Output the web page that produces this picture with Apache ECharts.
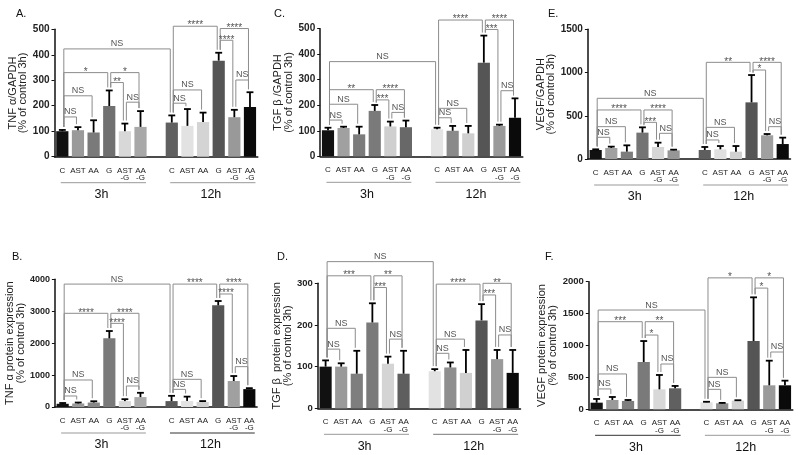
<!DOCTYPE html>
<html>
<head>
<meta charset="utf-8">
<script src="https://cdn.jsdelivr.net/npm/echarts@6/dist/echarts.min.js"></script>
<style>
html, body { margin: 0; padding: 0; background: #fff; }
#main { width: 800px; height: 455px; }
</style>
</head>
<body>
<div id="main"></div>
<script>
//x轴分类 (6组 + 空位 + 6组)
var cats = ['C', 'AST', 'AA', 'G', 'AST\n-G', 'AA\n-G', '', 'C', 'AST', 'AA', 'G', 'AST\n-G', 'AA\n-G'];
var groupNames = ['3h', '12h'];
var groupSpans = [[0, 5], [7, 12]];

//A. TNF α/GAPDH
var tnfGapdhMean = [100, 104, 95, 199, 100, 117, null, 134, 121, 136, 377, 155, 195];
var tnfGapdhErr = [5, 12, 48, 61, 30, 62, null, 28, 66, 37, 31, 29, 58];
var tnfGapdhTicks = [0, 100, 200, 300, 400, 500];
//显著性标记 [from, to, level, text]
var tnfGapdhSig = [
	[0, 7, 423, 'NS'], [0, 3, 330, '*'], [3, 5, 330, '*'], [3, 4, 291, '**'],
	[0, 2, 239, 'NS'], [0, 1, 156, 'NS'], [4, 5, 214, 'NS'],
	[7, 10, 512, '****'], [10, 12, 503, '****'], [10, 11, 457, '****'],
	[7, 9, 262, 'NS'], [7, 8, 210, 'NS'], [11, 12, 301, 'NS']
];

//B. TNF α protein
var tnfProtMean = [100, 110, 140, 2150, 185, 310, null, 185, 190, 155, 3185, 815, 560];
var tnfProtErr = [25, 30, 40, 230, 60, 135, null, 165, 135, 30, 135, 155, 30];
var tnfProtTicks = [0, 1000, 2000, 3000, 4000];
var tnfProtSig = [
	[0, 7, 3850, 'NS'], [0, 3, 2935, '****'], [3, 5, 2935, '****'], [3, 4, 2620, '****'],
	[0, 2, 846, 'NS'], [0, 1, 345, 'NS'], [4, 5, 658, 'NS'],
	[7, 10, 3850, '****'], [10, 12, 3850, '****'], [10, 11, 3540, '****'],
	[7, 9, 867, 'NS'], [7, 8, 553, 'NS'], [11, 12, 1264, 'NS']
];

//C. TGF β/GAPDH
var tgfGapdhMean = [102, 111, 86, 178, 117, 114, null, 106, 100, 90, 367, 119, 151];
var tgfGapdhErr = [10, 5, 30, 23, 19, 26, null, 6, 19, 29, 106, 5, 76];
var tgfGapdhTicks = [0, 100, 200, 300, 400, 500];
var tgfGapdhSig = [
	[0, 7, 371, 'NS'], [0, 3, 261, '**'], [3, 5, 261, '****'], [3, 4, 221, '***'],
	[0, 2, 204, 'NS'], [0, 1, 142, 'NS'], [4, 5, 172, 'NS'],
	[7, 10, 534, '****'], [10, 12, 534, '****'], [10, 11, 497, '***'],
	[7, 9, 188, 'NS'], [7, 8, 151, 'NS'], [11, 12, 257, 'NS']
];

//D. TGF β protein
var tgfProtMean = [100, 100, 83, 206, 107, 83, null, 89, 98, 85, 211, 118, 85];
var tgfProtErr = [15, 8, 55, 46, 17, 55, null, 5, 12, 55, 39, 22, 55];
var tgfProtTicks = [0, 100, 200, 300];
var tgfProtSig = [
	[0, 7, 352, 'NS'], [0, 3, 318, '***'], [3, 5, 318, '**'], [3, 4, 290, '***'],
	[0, 2, 192, 'NS'], [0, 1, 142, 'NS'], [4, 5, 166, 'NS'],
	[7, 10, 298, '****'], [10, 12, 300, '**'], [10, 11, 272, '***'],
	[7, 9, 166, 'NS'], [7, 8, 132, 'NS'], [11, 12, 176, 'NS']
];

//E. VEGF/GAPDH
var vegfGapdhMean = [104, 127, 85, 305, 139, 100, null, 104, 112, 85, 655, 274, 173];
var vegfGapdhErr = [8, 16, 73, 61, 50, 8, null, 35, 38, 65, 316, 15, 74];
var vegfGapdhTicks = [0, 500, 1000, 1500];
var vegfGapdhSig = [
	[0, 7, 702, 'NS'], [0, 3, 567, '****'], [3, 5, 567, '****'], [3, 4, 424, '***'],
	[0, 2, 374, 'NS'], [0, 1, 251, 'NS'], [4, 5, 297, 'NS'],
	[7, 10, 1118, '**'], [10, 12, 1118, '****'], [10, 11, 1029, '*'],
	[7, 9, 366, 'NS'], [7, 8, 220, 'NS'], [11, 12, 374, 'NS']
];

//F. VEGF protein
var vegfProtMean = [104, 146, 131, 741, 313, 329, null, 110, 94, 136, 1070, 376, 376];
var vegfProtErr = [58, 47, 15, 329, 225, 37, null, 8, 6, 6, 685, 386, 73];
var vegfProtTicks = [0, 500, 1000, 1500, 2000];
var vegfProtSig = [
	[0, 7, 1556, 'NS'], [0, 3, 1373, '***'], [3, 5, 1373, '**'], [3, 4, 1164, '*'],
	[0, 2, 554, 'NS'], [0, 1, 319, 'NS'], [4, 5, 710, 'NS'],
	[7, 10, 2060, '*'], [10, 12, 2060, '*'], [10, 11, 1900, '*'],
	[7, 9, 501, 'NS'], [7, 8, 313, 'NS'], [11, 12, 898, 'NS']
];

//柱子灰度
var shadeA = ['#111', '#9a9a9a', '#7a7a7a', '#707070', '#d8d8d8', '#a8a8a8', '#fff', '#606060', '#e2e2e2', '#d4d4d4', '#555', '#999', '#0a0a0a'];
var shadeB = ['#111', '#999', '#888', '#7a7a7a', '#d8d8d8', '#aaa', '#fff', '#5a5a5a', '#e2e2e2', '#d0d0d0', '#555', '#a0a0a0', '#0a0a0a'];
var shadeC = ['#111', '#a0a0a0', '#7c7c7c', '#7a7a7a', '#cfcfcf', '#686868', '#fff', '#e4e4e4', '#8a8a8a', '#cfcfcf', '#555', '#9a9a9a', '#0a0a0a'];
var shadeD = ['#111', '#9a9a9a', '#7e7e7e', '#7a7a7a', '#d4d4d4', '#5e5e5e', '#fff', '#e2e2e2', '#8e8e8e', '#d0d0d0', '#555', '#9a9a9a', '#0a0a0a'];
var shadeE = ['#111', '#a0a0a0', '#7c7c7c', '#747474', '#d6d6d6', '#969696', '#fff', '#5e5e5e', '#e0e0e0', '#d0d0d0', '#555', '#a0a0a0', '#0a0a0a'];
var shadeF = ['#111', '#9a9a9a', '#7e7e7e', '#7a7a7a', '#d8d8d8', '#606060', '#fff', '#e2e2e2', '#8e8e8e', '#d2d2d2', '#555', '#9a9a9a', '#0a0a0a'];

var font = 'Liberation Sans, Arial, sans-serif';

//面板配置 box = [left, top, width, height]
var panels = [
	{ tag: 'A.', tagPos: [16, 8], box: [54.5, 29.3, 203.3, 127.4], nameGap: 24, labelSize: 10,
		yName: 'TNF α/GAPDH\n(% of control 3h)', mean: tnfGapdhMean, err: tnfGapdhErr, ticks: tnfGapdhTicks, sig: tnfGapdhSig, shade: shadeA, lines: ['#999', '#999'] },
	{ tag: 'B.', tagPos: [12, 251], box: [54.9, 279.3, 202.2, 127.7], nameGap: 24, labelSize: 9,
		yName: 'TNF α protein expression\n(% of control 3h)', mean: tnfProtMean, err: tnfProtErr, ticks: tnfProtTicks, sig: tnfProtSig, shade: shadeB, lines: ['#999', '#333'] },
	{ tag: 'C.', tagPos: [274, 8], box: [320.2, 28.7, 202.6, 127.6], nameGap: 26, labelSize: 10,
		yName: 'TGF β /GAPDH\n(% of control 3h)', mean: tgfGapdhMean, err: tgfGapdhErr, ticks: tgfGapdhTicks, sig: tgfGapdhSig, shade: shadeC, lines: ['#999', '#999'] },
	{ tag: 'D.', tagPos: [277, 251], box: [317.8, 283.3, 202.7, 125], nameGap: 21, labelSize: 9.5,
		yName: 'TGF β  protein expression\n(% of control 3h)', mean: tgfProtMean, err: tgfProtErr, ticks: tgfProtTicks, sig: tgfProtSig, shade: shadeD, lines: ['#999', '#777'] },
	{ tag: 'E.', tagPos: [548, 8], box: [587.9, 29.3, 202.6, 129.7], nameGap: 26, labelSize: 10,
		yName: 'VEGF/GAPDH\n(% of control 3h)', mean: vegfGapdhMean, err: vegfGapdhErr, ticks: vegfGapdhTicks, sig: vegfGapdhSig, shade: shadeE, lines: ['#999', '#999'] },
	{ tag: 'F.', tagPos: [545, 251], box: [588.8, 281.7, 204, 127.6], nameGap: 31, labelSize: 9.5,
		yName: 'VEGF protein expression\n(% of control 3h)', mean: vegfProtMean, err: vegfProtErr, ticks: vegfProtTicks, sig: vegfProtSig, shade: shadeF, lines: ['#333', '#999'] }
];

//误差线
function renderErr(params, api) {
	var i = api.value(0);
	var p0 = api.coord([i, api.value(1)]);
	var p1 = api.coord([i, api.value(2)]);
	var cap = api.size([1, 0])[0] * 0.22;
	var st = { stroke: '#000', lineWidth: 1.8 };
	return {
		type: 'group',
		children: [
			{ type: 'line', shape: { x1: p0[0], y1: p0[1], x2: p1[0], y2: p1[1] }, style: st },
			{ type: 'line', shape: { x1: p1[0] - cap, y1: p1[1], x2: p1[0] + cap, y2: p1[1] }, style: st }
		]
	};
}

//显著性括号
function bracketRenderer(p) {
	return function(params, api) {
		var a = api.value(0), lvl = api.value(1), b = api.value(2);
		var text = p.sig[params.dataIndex][3];
		var pa = api.coord([a, lvl]);
		var pb = api.coord([b, lvl]);
		var y = pa[1];
		var xa = pa[0] + 1.5, xb = pb[0] - 1.5;
		var ya = api.coord([a, p.mean[a] + p.err[a]])[1] - 3;
		var yb = api.coord([b, p.mean[b] + p.err[b]])[1] - 3;
		if(ya < y + 3) ya = y + 3;
		if(yb < y + 3) yb = y + 3;
		var st = { stroke: '#8c8c8c', lineWidth: 1, fill: null };
		var star = text.charAt(0) == '*';
		return {
			type: 'group',
			children: [
				{ type: 'polyline', shape: { points: [[xa, ya], [xa, y], [xb, y], [xb, yb]] }, style: st },
				{ type: 'text', style: {
					text: text, x: (xa + xb) / 2, y: star ? y + 4.5 : y - 0.5,
					align: 'center', verticalAlign: 'bottom',
					fontSize: star ? 10 : 9, fontFamily: font, fill: '#555'
				} }
			]
		};
	};
}

//时间分组 (3h / 12h)
function groupRenderer(p) {
	return function(params, api) {
		var first = api.value(0), last = api.value(2);
		var slot = api.size([1, 0])[0];
		var p0 = api.coord([first, 0]);
		var p1 = api.coord([last, 0]);
		var xa = p0[0] - slot * 0.1, xb = p1[0] + slot * 0.35;
		return {
			type: 'group',
			children: [
				{ type: 'line', shape: { x1: xa, y1: p0[1] + 26, x2: xb, y2: p0[1] + 26 },
					style: { stroke: p.lines[params.dataIndex], lineWidth: 1 } },
				{ type: 'text', style: {
					text: groupNames[params.dataIndex], x: (p0[0] + p1[0]) / 2, y: p0[1] + 38,
					align: 'center', verticalAlign: 'middle', fontSize: 12.5, fontFamily: font, fill: '#111'
				} }
			]
		};
	};
}

var grids = [], xAxes = [], yAxes = [], series = [], titles = [];

panels.forEach(function(p, k) {
	titles.push({
		text: p.tag, left: p.tagPos[0], top: p.tagPos[1], padding: 0,
		textStyle: { fontSize: 11, fontWeight: 'normal', color: '#111', fontFamily: font }
	});
	grids.push({ left: p.box[0], top: p.box[1], width: p.box[2], height: p.box[3], containLabel: false });
	xAxes.push({
		gridIndex: k, type: 'category', data: cats, boundaryGap: true,
		axisLine: { lineStyle: { color: '#111', width: 1.5 } },
		axisTick: { alignWithLabel: true, length: 3, lineStyle: { color: '#111', width: 1 } },
		axisLabel: { interval: 0, margin: 10, fontSize: 8, lineHeight: 7.5, color: '#222', fontFamily: font }
	});
	var ticks = p.ticks;
	yAxes.push({
		gridIndex: k, type: 'value', min: ticks[0], max: ticks[ticks.length - 1], interval: ticks[1] - ticks[0],
		name: p.yName, nameLocation: 'middle', nameGap: p.nameGap,
		nameTextStyle: { fontSize: 11, lineHeight: 10.5, color: '#222', fontFamily: font },
		axisLine: { show: true, lineStyle: { color: '#111', width: 1.5 } },
		axisTick: { show: true, length: 3, lineStyle: { color: '#111' } },
		axisLabel: {
			fontSize: p.labelSize, fontWeight: 'bold', color: '#222', margin: 5, fontFamily: font,
			formatter: function(v) { return String(v); }
		},
		splitLine: { show: false }
	});

	series.push({
		type: 'bar', xAxisIndex: k, yAxisIndex: k, barCategoryGap: '22%', silent: true,
		data: p.mean.map(function(v, i) {
			return v == null ? '-' : { value: v, itemStyle: { color: p.shade[i] } };
		})
	});

	var errData = [];
	p.mean.forEach(function(v, i) {
		if(v != null) errData.push([i, v, v + p.err[i]]);
	});
	series.push({
		type: 'custom', xAxisIndex: k, yAxisIndex: k, clip: false, silent: true,
		encode: { x: 0, y: 1 }, renderItem: renderErr, data: errData, z: 3
	});

	series.push({
		type: 'custom', xAxisIndex: k, yAxisIndex: k, clip: false, silent: true,
		encode: { x: 0, y: 1 }, renderItem: bracketRenderer(p), z: 4,
		data: p.sig.map(function(s) { return [s[0], s[2], s[1]]; })
	});

	series.push({
		type: 'custom', xAxisIndex: k, yAxisIndex: k, clip: false, silent: true,
		encode: { x: 0, y: 1 }, renderItem: groupRenderer(p), z: 4,
		data: groupSpans.map(function(g) { return [g[0], 0, g[1]]; })
	});
});

var myChart = echarts.init(document.getElementById('main'), null, { renderer: 'canvas' });
myChart.setOption({
	animation: false,
	backgroundColor: '#fff',
	textStyle: { fontFamily: font },
	title: titles,
	grid: grids,
	xAxis: xAxes,
	yAxis: yAxes,
	series: series
});
</script>
</body>
</html>
